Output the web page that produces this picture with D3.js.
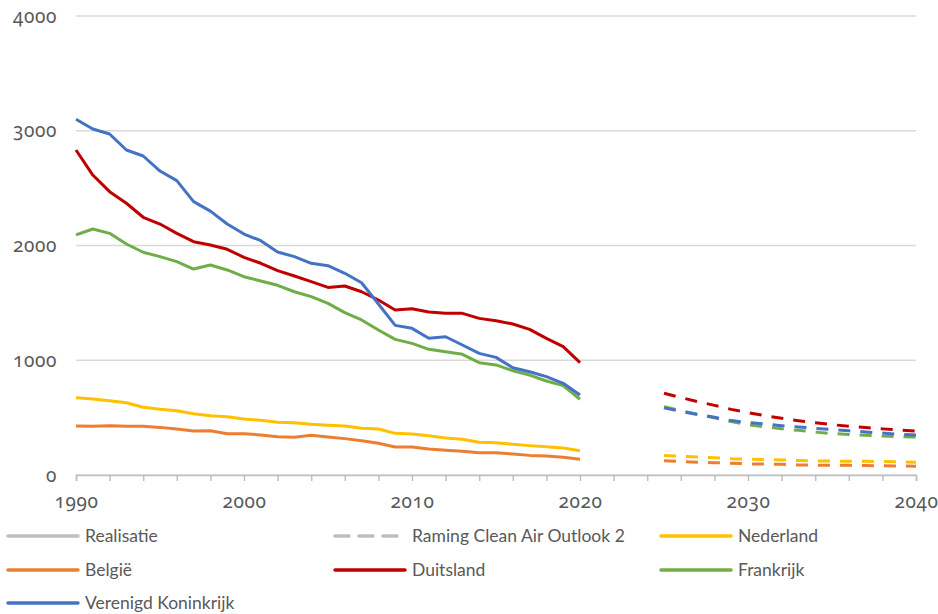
<!DOCTYPE html>
<html>
<head>
<meta charset="utf-8">
<script src="https://cdn.jsdelivr.net/npm/d3@7"></script>
<style>
  body { margin: 0; background: #fff; }
  text { font-family: Lato, "Noto Sans", sans-serif; fill: #595959; }
  .tick-label { font-family: "Noto Sans", sans-serif; font-variant-numeric: oldstyle-nums; font-feature-settings: "onum"; letter-spacing: 0.6px; }
</style>
</head>
<body>
<script>
const width = 938,
  height = 614;

// x range of the plot area, y range of the plot area
const margin = { top: 16, right: 22, bottom: 139, left: 76 };

// Realisatie 1990-2020
const years = [1990, 1991, 1992, 1993, 1994, 1995, 1996, 1997, 1998, 1999, 2000,
  2001, 2002, 2003, 2004, 2005, 2006, 2007, 2008, 2009, 2010,
  2011, 2012, 2013, 2014, 2015, 2016, 2017, 2018, 2019, 2020];
const nederland = [674, 662, 648, 630, 590, 572, 560, 534, 517, 508, 488, 477, 459, 456, 442, 433,
  427, 407, 401, 363, 357, 343, 322, 311, 285, 282, 267, 256, 247, 235, 212];
const belgie = [427, 424, 430, 424, 424, 415, 401, 383, 386, 360, 360, 349, 334, 328, 346, 332,
  317, 299, 276, 244, 244, 227, 215, 206, 194, 194, 183, 171, 166, 154, 137];
const duitsland = [2832, 2614, 2469, 2368, 2246, 2187, 2106, 2033, 2004, 1967, 1897, 1845, 1781, 1734, 1685, 1635,
  1647, 1597, 1525, 1438, 1449, 1420, 1409, 1409, 1365, 1345, 1316, 1269, 1191, 1118, 979];
const frankrijk = [2092, 2144, 2106, 2013, 1941, 1903, 1859, 1795, 1830, 1787, 1728, 1691, 1653, 1597, 1554, 1496,
  1415, 1351, 1264, 1182, 1147, 1095, 1075, 1052, 979, 959, 909, 871, 819, 779, 660];
const vk = [3100, 3015, 2972, 2832, 2780, 2649, 2565, 2382, 2300, 2187, 2100, 2042, 1943, 1903, 1845, 1824,
  1758, 1675, 1490, 1304, 1278, 1191, 1205, 1133, 1060, 1025, 935, 900, 857, 799, 697];

// Raming Clean Air Outlook 2, 2025-2040
const rYears = [2025, 2026, 2027, 2028, 2029, 2030, 2031, 2032, 2033, 2034, 2035, 2036, 2037, 2038, 2039, 2040];
const rNederland = [170, 164, 157, 151, 142, 137, 134, 131, 126, 123, 121, 119, 119, 117, 114, 112];
const rBelgie = [124, 117, 111, 107, 103, 97, 95, 93, 88, 85, 84, 84, 82, 80, 78, 77];
const rDuitsland = [712, 675, 640, 607, 572, 543, 518, 494, 473, 455, 439, 424, 413, 402, 392, 383];
const rFrankrijk = [595, 560, 530, 499, 465, 438, 420, 404, 389, 374, 361, 354, 346, 340, 334, 330];
const rVk = [585, 555, 527, 503, 474, 458, 444, 430, 419, 407, 396, 385, 375, 365, 355, 348];

const yTicks = [0, 1000, 2000, 3000, 4000];
const xLabels = [1990, 2000, 2010, 2020, 2030, 2040];

const series = [
  { name: "Nederland", color: "#FFC000", real: nederland, proj: rNederland },
  { name: "België", color: "#ED7D31", real: belgie, proj: rBelgie },
  { name: "Duitsland", color: "#C00000", real: duitsland, proj: rDuitsland },
  { name: "Frankrijk", color: "#70AD47", real: frankrijk, proj: rFrankrijk },
  { name: "Verenigd Koninkrijk", color: "#4472C4", real: vk, proj: rVk }
];

const xScale = d3.scaleLinear().domain([1990, 2040]).range([margin.left, width - margin.right]);
const yScale = d3.scaleLinear().domain([0, 4000]).range([height - margin.bottom, margin.top]);

const svg = d3.select("body").append("svg")
  .attr("width", width)
  .attr("height", height);

// gridlines
svg.append("g")
  .selectAll("line")
  .data(yTicks)
  .enter()
  .append("line")
  .attr("x1", xScale(1990))
  .attr("x2", xScale(2040))
  .attr("y1", d => yScale(d))
  .attr("y2", d => yScale(d))
  .attr("stroke", "#d9d9d9")
  .attr("stroke-width", 1.5);

// x axis: ticks every 2 years, labels every 10
const xAxis = d3.axisBottom(xScale)
  .tickValues(d3.range(1990, 2041, 2))
  .tickSize(6)
  .tickFormat(d => (xLabels.includes(d) ? String(d) : ""));

const xg = svg.append("g")
  .attr("transform", `translate(0,${yScale(0)})`)
  .call(xAxis);
xg.select(".domain").attr("stroke", "#bfbfbf").attr("stroke-width", 1.5);
xg.selectAll(".tick line").attr("stroke", "#bfbfbf").attr("stroke-width", 1.5);
xg.selectAll(".tick text")
  .attr("class", "tick-label")
  .attr("dy", 0)
  .attr("y", 33)
  .attr("font-size", 19)
  .style("fill", "#595959");

// y axis labels
const yAxis = d3.axisLeft(yScale).tickValues(yTicks).tickSize(0).tickPadding(19)
  .tickFormat(d3.format("d"));
const yg = svg.append("g")
  .attr("transform", `translate(${margin.left},0)`)
  .call(yAxis);
yg.select(".domain").remove();
yg.selectAll(".tick text")
  .attr("class", "tick-label")
  .attr("font-size", 19)
  .style("fill", "#595959");

const line = d3.line()
  .x(d => xScale(d[0]))
  .y(d => yScale(d[1]));

const lines = svg.append("g")
  .attr("fill", "none")
  .attr("stroke-width", 3)
  .attr("stroke-linejoin", "round");

series.forEach(s => {
  lines.append("path")
    .attr("d", line(years.map((y, i) => [y, s.real[i]])))
    .attr("stroke", s.color);
});
series.forEach(s => {
  lines.append("path")
    .attr("d", line(rYears.map((y, i) => [y, s.proj[i]])))
    .attr("stroke", s.color)
    .attr("stroke-dasharray", "12,10");
});

// legend
const legendItems = [
  { name: "Realisatie", color: "#bfbfbf", dash: null },
  { name: "Raming Clean Air Outlook 2", color: "#bfbfbf", dash: "14,10" },
  { name: "Nederland", color: "#FFC000", dash: null },
  { name: "België", color: "#ED7D31", dash: null },
  { name: "Duitsland", color: "#C00000", dash: null },
  { name: "Frankrijk", color: "#70AD47", dash: null },
  { name: "Verenigd Koninkrijk", color: "#4472C4", dash: null }
];
const colX = [8, 335, 661];
const rowY = [536, 570, 603];

const legend = svg.append("g")
  .selectAll("g")
  .data(legendItems)
  .enter()
  .append("g")
  .attr("transform", (d, i) => `translate(${colX[i % 3]},${rowY[Math.floor(i / 3)]})`);

legend.append("line")
  .attr("x1", 0)
  .attr("x2", 70)
  .attr("stroke", d => d.color)
  .attr("stroke-width", 3.5)
  .attr("stroke-linecap", "round")
  .attr("stroke-dasharray", d => d.dash);

legend.append("text")
  .attr("x", 77)
  .attr("dy", "0.35em")
  .attr("font-size", 17.5)
  .text(d => d.name);
</script>
</body>
</html>
